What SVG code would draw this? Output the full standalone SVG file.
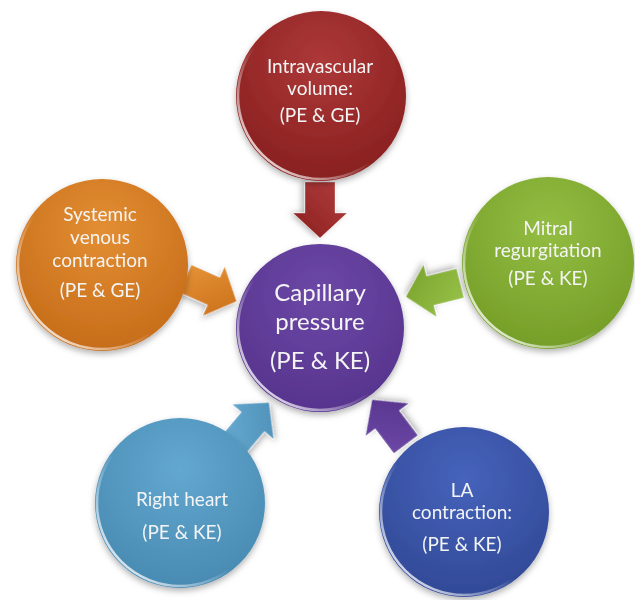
<svg xmlns="http://www.w3.org/2000/svg" width="635" height="600" viewBox="0 0 635 600">
  <defs>
    <filter id="sh" x="-20%" y="-20%" width="140%" height="150%">
      <feDropShadow dx="0" dy="3" stdDeviation="3" flood-color="#000" flood-opacity="0.3"/>
    </filter>
    <radialGradient id="gRed" cx="0.5" cy="0.3" r="0.75">
      <stop offset="0" stop-color="#AD3838"/>
      <stop offset="1" stop-color="#861E1E"/>
    </radialGradient>
    <radialGradient id="gOrange" cx="0.5" cy="0.3" r="0.75">
      <stop offset="0" stop-color="#E38E33"/>
      <stop offset="1" stop-color="#C46A18"/>
    </radialGradient>
    <radialGradient id="gGreen" cx="0.5" cy="0.3" r="0.75">
      <stop offset="0" stop-color="#93BD42"/>
      <stop offset="1" stop-color="#739C26"/>
    </radialGradient>
    <radialGradient id="gPurple" cx="0.5" cy="0.3" r="0.75">
      <stop offset="0" stop-color="#6C48A6"/>
      <stop offset="1" stop-color="#55338C"/>
    </radialGradient>
    <radialGradient id="gLBlue" cx="0.5" cy="0.3" r="0.75">
      <stop offset="0" stop-color="#62A8D0"/>
      <stop offset="1" stop-color="#4788B0"/>
    </radialGradient>
    <radialGradient id="gDBlue" cx="0.5" cy="0.3" r="0.75">
      <stop offset="0" stop-color="#4663BC"/>
      <stop offset="1" stop-color="#304894"/>
    </radialGradient>
    <linearGradient id="rim" x1="1" y1="0" x2="0" y2="1">
      <stop offset="0" stop-color="#fff" stop-opacity="0"/>
      <stop offset="0.55" stop-color="#fff" stop-opacity="0"/>
      <stop offset="0.85" stop-color="#fff" stop-opacity="0.75"/>
      <stop offset="1" stop-color="#fff" stop-opacity="0.3"/>
    </linearGradient>
    <linearGradient id="aRed" x1="0" y1="0" x2="1" y2="1">
      <stop offset="0" stop-color="#B23C3C"/>
      <stop offset="1" stop-color="#8A2020"/>
    </linearGradient>
    <linearGradient id="aOrange" x1="0" y1="0" x2="1" y2="1">
      <stop offset="0" stop-color="#E8963A"/>
      <stop offset="1" stop-color="#C86C16"/>
    </linearGradient>
    <linearGradient id="aGreen" x1="0" y1="0" x2="1" y2="1">
      <stop offset="0" stop-color="#9AC44A"/>
      <stop offset="1" stop-color="#76A02A"/>
    </linearGradient>
    <linearGradient id="aLBlue" x1="0" y1="0" x2="1" y2="1">
      <stop offset="0" stop-color="#6AADD4"/>
      <stop offset="1" stop-color="#4A8CB4"/>
    </linearGradient>
    <linearGradient id="aPurple" x1="0" y1="0" x2="1" y2="1">
      <stop offset="0" stop-color="#6E4AA8"/>
      <stop offset="1" stop-color="#54328A"/>
    </linearGradient>
    <path id="arrow" d="M -28,-15 L 3,-15 L 3,-27 L 28,0 L 3,27 L 3,15 L -28,15 Z"/>
  </defs>
  <style>
    .node { filter: url(#sh); }
    .rim { fill: none; stroke: url(#rim); stroke-width: 2.5; }
    .lbl { font-family: Lato, "Liberation Sans", sans-serif; font-size: 19px; fill: #F4F4F4; text-anchor: middle; }
    .big { font-size: 24px; }
    .arr { filter: url(#sh); stroke: #ffffff; stroke-opacity: 0.35; stroke-width: 1; stroke-linejoin: miter; }
  </style>

  <g id="connectors">
    <use href="#arrow" class="arr" fill="url(#aRed)" transform="translate(320,210) rotate(90)"/>
    <use href="#arrow" class="arr" fill="url(#aOrange)" transform="translate(211,290) rotate(24)"/>
    <use href="#arrow" class="arr" fill="url(#aGreen)" transform="translate(433,290) rotate(166)"/>
    <use href="#arrow" class="arr" fill="url(#aLBlue)" transform="translate(251,424) rotate(-50)"/>
    <use href="#arrow" class="arr" fill="url(#aPurple)" transform="translate(389,422) rotate(-127)"/>
  </g>

  <g id="node-intravascular" class="node">
    <circle cx="321" cy="96" r="85" fill="url(#gRed)"/>
    <circle cx="321" cy="96" r="83" class="rim"/>
    <text class="lbl" x="320" y="73">Intravascular</text>
    <text class="lbl" x="320" y="95">volume:</text>
    <text class="lbl" x="320" y="122">(PE &amp; GE)</text>
  </g>

  <g id="node-systemic" class="node">
    <circle cx="102" cy="265" r="86" fill="url(#gOrange)"/>
    <circle cx="102" cy="265" r="84" class="rim"/>
    <text class="lbl" x="100" y="221">Systemic</text>
    <text class="lbl" x="100" y="244">venous</text>
    <text class="lbl" x="100" y="267">contraction</text>
    <text class="lbl" x="100" y="297">(PE &amp; GE)</text>
  </g>

  <g id="node-mitral" class="node">
    <circle cx="548" cy="263" r="86" fill="url(#gGreen)"/>
    <circle cx="548" cy="263" r="84" class="rim"/>
    <text class="lbl" x="548" y="235">Mitral</text>
    <text class="lbl" x="548" y="257">regurgitation</text>
    <text class="lbl" x="548" y="285">(PE &amp; KE)</text>
  </g>

  <g id="node-capillary" class="node">
    <circle cx="320" cy="328" r="84" fill="url(#gPurple)"/>
    <circle cx="320" cy="328" r="82" class="rim"/>
    <text class="lbl big" x="320" y="301">Capillary</text>
    <text class="lbl big" x="320" y="330">pressure</text>
    <text class="lbl big" x="320" y="369">(PE &amp; KE)</text>
  </g>

  <g id="node-right-heart" class="node">
    <circle cx="180" cy="503" r="85" fill="url(#gLBlue)"/>
    <circle cx="180" cy="503" r="83" class="rim"/>
    <text class="lbl" x="182" y="506">Right heart</text>
    <text class="lbl" x="182" y="539">(PE &amp; KE)</text>
  </g>

  <g id="node-la" class="node">
    <circle cx="464" cy="512" r="85" fill="url(#gDBlue)"/>
    <circle cx="464" cy="512" r="83" class="rim"/>
    <text class="lbl" x="462" y="497">LA</text>
    <text class="lbl" x="462" y="519">contraction:</text>
    <text class="lbl" x="462" y="551">(PE &amp; KE)</text>
  </g>
</svg>
